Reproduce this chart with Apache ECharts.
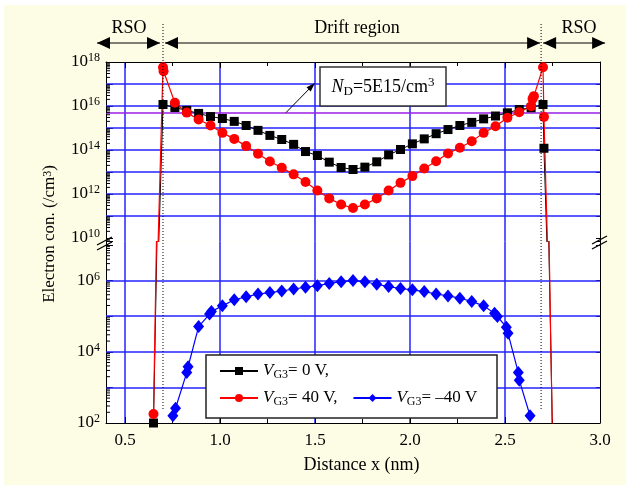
<!DOCTYPE html>
<html>
<head>
<meta charset="utf-8">
<script src="https://cdn.jsdelivr.net/npm/echarts@6.0.0/dist/echarts.min.js"></script>
<style>
  html, body { margin: 0; padding: 0; background: #fff; }
  #wrap { position: relative; width: 630px; height: 488px; background: #fff; }
  #paper { position: absolute; left: 4px; top: 5px; width: 622px; height: 480px; background: #fdfde6; }
  #chart { position: absolute; left: 0; top: 0; width: 630px; height: 488px; }
</style>
</head>
<body>
<div id="wrap"><div id="paper"></div><div id="chart"></div></div>
<script>
(function() {
  var FONT = '"Liberation Serif", "Times New Roman", serif';
  var GRIDBLUE = '#2323ff';

  // V_G3 = 0 V  (x in nm, electron concentration in /cm3)
  var vg0X = [0.65, 0.7, 0.7625, 0.825, 0.8875, 0.95, 1.0125, 1.075, 1.1375, 1.2, 1.2625, 1.325,
    1.3875, 1.45, 1.5125, 1.575, 1.6375, 1.7, 1.7625, 1.825, 1.8875, 1.95, 2.0125, 2.075, 2.1375,
    2.2, 2.2625, 2.325, 2.3875, 2.45, 2.5125, 2.575, 2.6375, 2.7, 2.705, 2.75];
  var vg0N = [1.0e2, 1.17e16, 8.5e15, 6.3e15, 4.6e15, 3.3e15, 2.7e15, 2.0e15, 1.3e15, 7.8e14, 4.6e14, 3.0e14,
    1.8e14, 8.5e13, 5.6e13, 2.8e13, 1.6e13, 1.3e13, 1.66e13, 2.9e13, 6.0e13, 1.05e14, 1.9e14, 3.2e14, 5.5e14,
    8.5e14, 1.3e15, 1.8e15, 2.6e15, 3.5e15, 4.9e15, 6.9e15, 8.3e15, 1.17e16, 1.2e14, 5e1];

  // V_G3 = 40 V
  var vg40X = [0.65, 0.7, 0.703, 0.7625, 0.825, 0.8875, 0.95, 1.0125, 1.075, 1.1375, 1.2, 1.2625, 1.325,
    1.3875, 1.45, 1.5125, 1.575, 1.6375, 1.7, 1.7625, 1.825, 1.8875, 1.95, 2.0125, 2.075, 2.1375,
    2.2, 2.2625, 2.325, 2.3875, 2.45, 2.5125, 2.575, 2.6375, 2.645, 2.652, 2.7, 2.705, 2.75];
  var vg40N = [1.8e2, 5.75e17, 3.8e17, 1.4e16, 5.0e15, 2.45e15, 1.3e15, 6.0e14, 3.2e14, 1.5e14, 6.8e13, 3.0e13, 1.55e13,
    7.8e12, 3.5e12, 1.45e12, 6.3e11, 3.3e11, 2.3e11, 3.3e11, 6.3e11, 1.45e12, 3.2e12, 6.5e12, 1.45e13, 3.1e13,
    6.9e13, 1.26e14, 2.5e14, 6.0e14, 1.2e15, 2.9e15, 5.2e15, 9.8e15, 2.1e16, 2.8e16, 5.75e17, 3.2e15, 3e1];

  // V_G3 = -40 V
  var vgm40X = [0.752, 0.766, 0.825, 0.832, 0.8875, 0.945, 0.955, 1.0125, 1.075, 1.1375, 1.2, 1.2625, 1.325,
    1.3875, 1.45, 1.5125, 1.575, 1.6375, 1.7, 1.7625, 1.825, 1.8875, 1.95, 2.0125, 2.075, 2.1375,
    2.2, 2.2625, 2.325, 2.3875, 2.445, 2.46, 2.507, 2.516, 2.57, 2.575, 2.632];
  var vgm40N = [1.6e2, 2.6e2, 2.6e3, 3.8e3, 5.1e4, 1.15e5, 1.35e5, 1.95e5, 2.9e5, 3.5e5, 4.2e5, 4.6e5, 5.1e5,
    5.8e5, 6.5e5, 7.2e5, 8.3e5, 9.3e5, 1.0e6, 9.3e5, 7.9e5, 6.8e5, 6.0e5, 5.5e5, 4.9e5, 4.2e5,
    3.7e5, 3.2e5, 2.6e5, 1.95e5, 1.2e5, 9.8e4, 4.9e4, 3.3e4, 2.6e3, 1.6e3, 1.6e2];

  var donorN = 5e15;                       // N_D line
  var upperGridExp = [11, 12, 13, 14, 15, 16, 17];
  var lowerGridExp = [3, 4, 5, 6];
  var logMinor = [2, 3, 4, 5, 6, 7, 8, 9];
  var xMin = 0.4, xMax = 3.0;
  var upMin = 9.84, upMax = 18;            // log10 range, upper segment
  var loMin = 2, loMax = 7.098;            // log10 range, lower segment

  function pts(xs, ns) {
    return xs.map(function(x, i) { return [x, Math.log10(ns[i])]; });
  }
  function minorTicks(lo, hi) {
    var out = [];
    for (var d = Math.floor(lo); d < hi; d++) {
      logMinor.forEach(function(k) {
        var v = d + Math.log10(k);
        if (v > lo && v < hi) out.push([xMin, v]);
      });
    }
    return out;
  }

  var expLabel = function(v) {
    var r = Math.round(v);
    if (Math.abs(v - r) > 1e-6 || r % 2 !== 0) return '';
    return '{b|10}{s|' + r + '}';
  };
  var expRich = {
    b: { fontFamily: FONT, fontSize: 17, color: '#000', lineHeight: 20 },
    s: { fontFamily: FONT, fontSize: 12, color: '#000', lineHeight: 12, verticalAlign: 'top' }
  };

  function xAxisOpt(grid, pos, labels) {
    return {
      type: 'value', gridIndex: grid, position: pos, min: xMin, max: xMax,
      axisLine: { show: true, onZero: false, lineStyle: { color: '#000', width: 1 } },
      axisTick: { show: true, inside: true, length: 6, lineStyle: { color: '#000' } },
      minorTick: { show: true, splitNumber: 2, length: 4, lineStyle: { color: '#000' } },
      splitLine: { show: true, showMinLine: false, showMaxLine: false, lineStyle: { color: GRIDBLUE, width: 1.5 } },
      axisLabel: {
        show: labels, margin: 9, color: '#000', fontFamily: FONT, fontSize: 17,
        formatter: function(v) { return Math.abs(v * 2 - Math.round(v * 2)) < 1e-6 ? v.toFixed(1) : ''; }
      },
      name: labels ? 'Distance x (nm)' : '', nameLocation: 'middle', nameGap: 33,
      nameTextStyle: { color: '#000', fontFamily: FONT, fontSize: 18, padding: [0, 0, 0, 17] }
    };
  }
  function yAxisOpt(grid, pos, lo, hi, split, labels) {
    return {
      type: 'value', gridIndex: grid, position: pos, min: lo, max: hi, splitNumber: split,
      axisLine: { show: true, onZero: false, lineStyle: { color: '#000', width: 1 } },
      axisTick: { show: true, inside: true, length: labels ? 7 : 4, lineStyle: { color: '#000' } },
      splitLine: { show: false },
      axisLabel: { show: labels, margin: 6, formatter: expLabel, rich: expRich }
    };
  }
  function gridLines(vals, z) {
    return {
      silent: true, symbol: 'none', z: z, label: { show: false },
      lineStyle: { color: GRIDBLUE, width: 1.5, type: 'solid' },
      data: vals.map(function(v) { return { yAxis: v }; })
    };
  }
  function tickSeries(xi, yi, data) {
    return {
      type: 'custom', xAxisIndex: xi, yAxisIndex: yi, silent: true, clip: false, z: 3,
      data: data,
      renderItem: function(params, api) {
        var p = api.coord([api.value(0), api.value(1)]);
        return { type: 'line', shape: { x1: p[0], y1: p[1], x2: p[0] + 4, y2: p[1] },
          style: { stroke: '#000', lineWidth: 1 } };
      }
    };
  }

  var redStyle = { type: 'line', name: 'vg40', symbol: 'circle', symbolSize: 10,
    itemStyle: { color: '#ff0000' }, lineStyle: { color: '#ff0000', width: 1.2 } };
  var blackStyle = { type: 'line', name: 'vg0', symbol: 'rect', symbolSize: 9,
    itemStyle: { color: '#000' }, lineStyle: { color: '#000', width: 1 } };
  var blueStyle = { type: 'line', name: 'vgm40', symbol: 'diamond', symbolSize: [11, 13],
    itemStyle: { color: '#0000ff' }, lineStyle: { color: '#0000ff', width: 1.2 } };

  function series(base, xi, yi, data, extra) {
    var s = Object.assign({}, base, { xAxisIndex: xi, yAxisIndex: yi, data: data, clip: true, z: 2 });
    return Object.assign(s, extra || {});
  }

  var legendText = {
    vg0: '{i|V}{sub|G3}= 0 V,',
    vg40: '{i|V}{sub|G3}= 40 V,',
    vgm40: '{i|V}{sub|G3}= \u201340 V'
  };
  var legendTextStyle = {
    color: '#000', fontFamily: FONT, fontSize: 17, lineHeight: 20,
    rich: {
      i: { fontFamily: FONT, fontSize: 17, fontStyle: 'italic', color: '#000', lineHeight: 20 },
      sub: { fontFamily: FONT, fontSize: 12, color: '#000', lineHeight: 13, verticalAlign: 'bottom' }
    }
  };
  function legendOpt(names, top) {
    return {
      data: names, left: 219, top: top, orient: 'horizontal', itemWidth: 38, itemHeight: 10,
      itemGap: 15, selectedMode: false, padding: 0,
      formatter: function(n) { return legendText[n]; }, textStyle: legendTextStyle
    };
  }

  var chart = echarts.init(document.getElementById('chart'), null, { renderer: 'canvas' });
  chart.setOption({
    animation: false,
    backgroundColor: 'transparent',
    grid: [
      { left: 106, top: 62, width: 494, height: 179.5, show: true, backgroundColor: '#fff', borderWidth: 0, outerBoundsMode: 'none' },
      { left: 106, top: 241.5, width: 494, height: 181.5, show: true, backgroundColor: '#fff', borderWidth: 0, outerBoundsMode: 'none' }
    ],
    xAxis: [xAxisOpt(0, 'top', false), xAxisOpt(1, 'bottom', true)],
    yAxis: [
      yAxisOpt(0, 'left', upMin, upMax, 8, true),
      yAxisOpt(1, 'left', loMin, loMax, 5, true),
      yAxisOpt(0, 'right', upMin, upMax, 8, false),
      yAxisOpt(1, 'right', loMin, loMax, 5, false)
    ],
    legend: [legendOpt(['vg0'], 361), legendOpt(['vg40', 'vgm40'], 388)],
    series: [
      series(blackStyle, 0, 0, pts(vg0X, vg0N), {
        markLine: { silent: true, symbol: 'none', z: 1, label: { show: false },
          lineStyle: { color: '#9a1ee6', width: 1.5, type: 'solid' },
          data: [{ yAxis: Math.log10(donorN) }] }
      }),
      series(redStyle, 0, 0, pts(vg40X, vg40N), { markLine: gridLines(upperGridExp, 1) }),
      series(blackStyle, 1, 1, pts(vg0X, vg0N)),
      series(redStyle, 1, 1, pts(vg40X, vg40N)),
      series(blueStyle, 1, 1, pts(vgm40X, vgm40N), { markLine: gridLines(lowerGridExp, 1) }),
      tickSeries(0, 0, minorTicks(upMin, upMax)),
      tickSeries(1, 1, minorTicks(loMin, loMax))
    ]
  });

  // annotations placed from the axes
  var xl = chart.convertToPixel({ xAxisIndex: 0 }, 0.7);
  var xr = chart.convertToPixel({ xAxisIndex: 0 }, 2.69);
  var yD = chart.convertToPixel({ yAxisIndex: 0 }, Math.log10(donorN));
  var yA = 43, hw = 13, hh = 6;
  function head(tip, dir) {
    return { type: 'polygon', z: 6, shape: { points: [[tip, yA], [tip - dir * hw, yA - hh], [tip - dir * hw, yA + hh]] },
      style: { fill: '#000' } };
  }
  function hline(x1, x2) {
    return { type: 'line', z: 6, shape: { x1: x1, y1: yA, x2: x2, y2: yA }, style: { stroke: '#000', lineWidth: 1 } };
  }
  function label(text, x, y, size) {
    return { type: 'text', z: 6, x: x, y: y,
      style: { text: text, fill: '#000', font: size + 'px ' + FONT, align: 'center', verticalAlign: 'middle',
        textAlign: 'center', textVerticalAlign: 'middle' } };
  }
  function dotted(x) {
    return { type: 'line', z: 6, shape: { x1: x, y1: 24, x2: x, y2: 410 },
      style: { stroke: '#000', lineWidth: 1, lineDash: [1, 2] } };
  }
  function slash(x, y) {
    return { type: 'line', z: 6, shape: { x1: x - 8, y1: y + 4, x2: x + 7, y2: y - 4 },
      style: { stroke: '#000', lineWidth: 1.2 } };
  }
  var tipX = 315, tipY = 83;
  chart.setOption({
    graphic: [
      dotted(xl), dotted(xr),
      hline(xl - 66, xl - 3), head(xl - 66, -1), head(xl - 3, 1),
      hline(xl + 2, xr - 1), head(xl + 2, -1), head(xr - 1, 1),
      hline(xr + 2, xr + 64), head(xr + 2, -1), head(xr + 64, 1),
      label('RSO', 129, 28, 18), label('Drift region', 357, 28, 18), label('RSO', 579, 28, 18),
      slash(105, 241), slash(105, 246), slash(600, 240), slash(600, 245),
      { type: 'line', z: 6, shape: { x1: 286, y1: yD, x2: tipX - 2, y2: tipY + 2 }, style: { stroke: '#000', lineWidth: 1 } },
      { type: 'polygon', z: 6, shape: { points: [[tipX, tipY], [tipX - 4.3, tipY + 8.5], [tipX - 8.5, tipY + 4.3]] }, style: { fill: '#000' } },
      { type: 'rect', z: 5, shape: { x: 320, y: 67, width: 126, height: 39 },
        style: { fill: '#fff', stroke: '#333', lineWidth: 1.5 } },
      { type: 'text', z: 6, x: 383, y: 87,
        style: { text: '{i|N}{sub|D}=5E15/cm{sup|3}', fill: '#000', font: '18px ' + FONT,
          align: 'center', verticalAlign: 'middle', textAlign: 'center', textVerticalAlign: 'middle',
          rich: {
            i: { fontFamily: FONT, fontSize: 18, fontStyle: 'italic', lineHeight: 22 },
            sub: { fontFamily: FONT, fontSize: 13, lineHeight: 14, verticalAlign: 'bottom' },
            sup: { fontFamily: FONT, fontSize: 13, lineHeight: 13, verticalAlign: 'top' }
          } } },
      { type: 'rect', z: 3, shape: { x: 206, y: 355, width: 291, height: 63 },
        style: { fill: '#fff', stroke: '#222', lineWidth: 1.5 } },
      { type: 'text', z: 6, x: 50, y: 234, rotation: Math.PI / 2,
        style: { text: 'Electron con. (/cm{sup|3})', fill: '#000', font: '17px ' + FONT,
          align: 'center', verticalAlign: 'middle', textAlign: 'center', textVerticalAlign: 'middle',
          rich: { sup: { fontFamily: FONT, fontSize: 12, lineHeight: 12, verticalAlign: 'top' } } } }
    ]
  });
})();
</script>
</body>
</html>
